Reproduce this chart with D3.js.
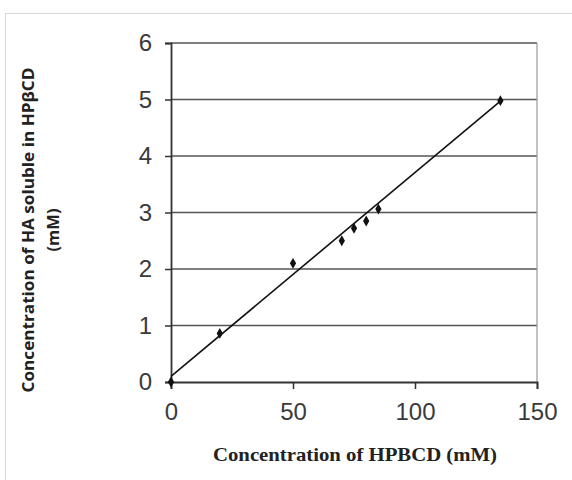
<!DOCTYPE html>
<html>
<head>
<meta charset="utf-8">
<script src="https://cdn.jsdelivr.net/npm/d3@7"></script>
<style>
body { margin: 0; background: #fff; }
</style>
</head>
<body>
<div id="chart"></div>
<script>
// Data
var hpbcd = [0, 20, 50, 70, 75, 80, 85, 135];           // mM
var haSoluble = [0, 0.86, 2.1, 2.5, 2.72, 2.85, 3.06, 4.98]; // mM
var trendX = [0, 135];
var trendY = [0.1, 4.97];
var xTicks = [0, 50, 100, 150];
var yTicks = [0, 1, 2, 3, 4, 5, 6];

// SVG setup
var width = 572, height = 480;
var svg = d3.select("#chart").append("svg")
	.attr("width", width).attr("height", height);

// outer frame
svg.append("rect")
	.attr("x", 5.5).attr("y", 13.5)
	.attr("width", 600).attr("height", 500)
	.attr("fill", "none").attr("stroke", "#d8d8d8");

var x = d3.scaleLinear().domain([0, 150]).range([171, 537]);
var y = d3.scaleLinear().domain([0, 6]).range([382, 43]);

// gridlines
svg.selectAll("line.grid").data(yTicks.slice(1)).enter().append("line")
	.attr("class", "grid")
	.attr("x1", x(0)).attr("x2", x(150))
	.attr("y1", function(d) { return y(d); })
	.attr("y2", function(d) { return y(d); })
	.attr("stroke", "#555").attr("stroke-width", 1.6);

// right border
svg.append("line")
	.attr("x1", x(150)).attr("x2", x(150))
	.attr("y1", y(6)).attr("y2", y(0))
	.attr("stroke", "#999").attr("stroke-width", 1.2);

// axes
var xAxis = svg.append("g").attr("transform", "translate(0," + y(0) + ")")
	.call(d3.axisBottom(x).tickValues(xTicks).tickSize(7).tickPadding(14));
var yAxis = svg.append("g").attr("transform", "translate(" + x(0) + ",0)")
	.call(d3.axisLeft(y).tickValues(yTicks).tickFormat(d3.format("d")).tickSize(6).tickPadding(13));

[xAxis, yAxis].forEach(function(g) {
	g.select(".domain").attr("stroke", "#333").attr("stroke-width", 1.8);
	g.selectAll(".tick line").attr("stroke", "#333").attr("stroke-width", 1.5);
	g.selectAll(".tick text")
		.attr("font-family", "Liberation Sans, Arial, sans-serif")
		.attr("font-size", "24px")
		.attr("fill", "#3a3a3a");
});

// trend line
svg.append("line")
	.attr("x1", x(trendX[0])).attr("y1", y(trendY[0]))
	.attr("x2", x(trendX[1])).attr("y2", y(trendY[1]))
	.attr("stroke", "#111").attr("stroke-width", 1.6);

// points
svg.selectAll("path.pt").data(hpbcd).enter().append("path")
	.attr("class", "pt")
	.attr("d", d3.symbol().type(d3.symbolDiamond).size(34))
	.attr("transform", function(d, i) { return "translate(" + x(d) + "," + y(haSoluble[i]) + ")"; })
	.attr("fill", "#111");

// axis titles
svg.append("text")
	.attr("x", 355).attr("y", 461)
	.attr("text-anchor", "middle")
	.attr("font-family", "Liberation Serif, serif")
	.attr("font-weight", "bold")
	.attr("font-size", "19px")
	.attr("textLength", 284).attr("lengthAdjust", "spacingAndGlyphs")
	.attr("fill", "#222")
	.text("Concentration of HPBCD (mM)");

var yt = svg.append("text")
	.attr("transform", "translate(34,230) rotate(-90)")
	.attr("text-anchor", "middle")
	.attr("font-family", "Open Sans, sans-serif")
	.attr("font-weight", "bold")
	.attr("font-size", "16.5px")
	.attr("fill", "#222");
yt.append("tspan").attr("x", 0).attr("dy", 0)
	.attr("textLength", 325).attr("lengthAdjust", "spacingAndGlyphs")
	.text("Concentration of HA soluble in HPβCD");
yt.append("tspan").attr("x", 0).attr("dy", 25).text("(mM)");
</script>
</body>
</html>
